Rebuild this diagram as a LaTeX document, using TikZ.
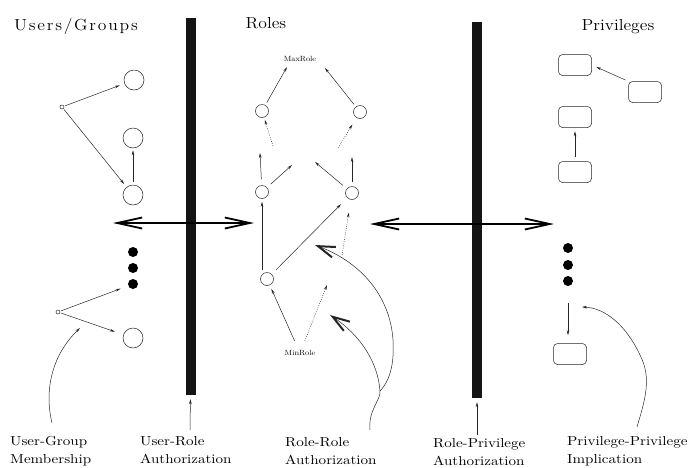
\documentclass[tikz,border=0pt]{standalone}
\usepackage{fontspec}
\newfontfamily\capfont{lmroman10-regular.otf}[FakeStretch=1.16]
\newfontfamily\titlefont{lmroman12-regular.otf}[FakeStretch=1.1]
\newfontfamily\userstitlefont{lmroman12-regular.otf}[FakeStretch=1.1,LetterSpace=11]
\newfontfamily\rolefont{lmroman10-regular.otf}[FakeStretch=1.1]
\usetikzlibrary{arrows.meta,calc}
\begin{document}
\begin{tikzpicture}[x=1pt,y=-1pt,
  every node/.style={inner sep=0pt},
  ln/.style={line width=0.5pt, draw=black!85},
  arr/.style={ln,-{Stealth[length=5pt,width=2.6pt]}},
  darr/.style={arr,dash pattern=on 0.8pt off 1.4pt},
  bigarr/.style={line width=1.1pt,
    {Straight Barb[length=25pt,width=11pt,line width=1.8pt]}-{Straight Barb[length=25pt,width=11pt,line width=1.8pt]}},
  curvearr/.style={ln,-{Straight Barb[length=17pt,width=11pt,line width=2pt]}},
  ucirc/.style={circle,draw,ln,minimum size=20pt},
  rcirc/.style={circle,draw,ln,minimum size=13pt},
  udot/.style={circle,draw,ln,minimum size=4pt},
  bdot/.style={circle,fill=black,minimum size=10pt},
  pbox/.style={draw,ln,rounded corners=4pt,minimum width=33pt,minimum height=21pt},
  bar/.style={fill=black!92,minimum width=10pt},
  title/.style={font=\titlefont\fontsize{16}{18}\selectfont,anchor=base},
  lab/.style={font=\capfont\fontsize{13}{18}\selectfont,align=left,anchor=north west},
  rlab/.style={font=\rolefont\fontsize{7.5}{8}\selectfont}]
\useasboundingbox (0,0) rectangle (689,467);

% column titles
\node[title,font=\userstitlefont\fontsize{16}{18}\selectfont] (tu) at (76,30) {Users/Groups};
\node[title] (tr) at (266,28) {Roles};
\node[title] (tp) at (618,30) {Privileges};

% authorization bars
\node[bar,minimum height=377pt] (barL) at (190.5,206.5) {};
\node[bar,minimum height=376pt] (barR) at (477,210) {};

% users and groups
\node[udot] (u1) at (62,107) {};
\node[ucirc] (c1) at (134,80) {};
\node[ucirc] (c2) at (133,138) {};
\node[ucirc] (c3) at (133,195) {};
\node[bdot] (b1) at (133,252) {};
\node[bdot] (b2) at (133,268) {};
\node[bdot] (b3) at (133,284) {};
\node[udot] (u2) at (58,312) {};
\node[ucirc] (c4) at (133,338) {};

\draw[arr,shorten <=1pt,shorten >=5pt] (u1) -- (c1);
\draw[arr,shorten <=1pt,shorten >=4pt] (u1) -- (c3);
\draw[arr,shorten <=3pt,shorten >=2pt] (c3) -- (c2);
\draw[arr,shorten <=1pt,shorten >=8pt] (u2) -- (b3);
\draw[arr,shorten <=1pt,shorten >=9pt] (u2) -- (c4);

% roles
\node[rlab] (maxr) at (300,59) {MaxRole};
\node[rcirc] (TL) at (262,111) {};
\node[rcirc] (TR) at (360,112) {};
\node[rcirc] (ML) at (262,192) {};
\node[rcirc] (MR) at (352,193) {};
\node[rcirc] (BL) at (267,279) {};
\node[rlab] (minr) at (300,353) {MinRole};

\coordinate (mxl) at (287,67);
\coordinate (mxr) at (325,68);
\coordinate (d1) at (273,146);
\coordinate (d2) at (338,148);
\coordinate (d3) at (342,255);
\coordinate (d4) at (327,285);
\coordinate (mlu) at (260,153);
\coordinate (mle) at (292,165);
\coordinate (mrw) at (315,162);
\coordinate (mru) at (352,157);

\draw[arr,shorten <=3pt] (TL) -- (mxl);
\draw[arr,shorten <=3pt] (TR) -- (mxr);
\draw[darr,shorten >=2.5pt] (d1) -- (TL);
\draw[darr,shorten >=8pt] (d2) -- (TR);
\draw[arr,shorten <=6pt] (ML) -- (mlu);
\draw[arr,shorten <=5pt] (ML) -- (mle);
\draw[arr,shorten <=5pt] (MR) -- (mrw);
\draw[arr,shorten <=4pt,line width=0.8pt] (MR) -- (mru);
\draw[arr,shorten <=2pt,shorten >=3pt] (BL.north -| ML.south) -- (ML.south);
\draw[arr,shorten <=6pt,shorten >=9pt] (BL) -- (MR);
\draw[darr,shorten >=13pt] (d3) -- (MR);
\draw[arr,shorten <=10pt,shorten >=4pt] (minr) -- (BL);
\draw[darr,shorten <=10pt] (minr) -- (d4);

% privileges
\node[pbox] (p1) at (575,65) {};
\node[pbox] (p2) at (645,92) {};
\node[pbox] (p3) at (575,117) {};
\node[pbox] (p4) at (575,172) {};
\node[bdot] (q1) at (568,248) {};
\node[bdot] (q2) at (568,265) {};
\node[bdot] (q3) at (568,281) {};
\node[pbox] (p5) at (570,354) {};

\draw[arr,shorten <=3pt,shorten >=5pt] (p2.north west) -- (p1.east);
\draw[arr,shorten <=4pt,shorten >=3.5pt] (p4) -- (p3);
\draw[arr,shorten <=17pt,shorten >=8pt] (q3) -- (q3 |- p5.north);

% authorization flows between the columns
\coordinate (la) at (113,223);
\coordinate (lb) at (254,223);
\coordinate (ra) at (370,224);
\coordinate (rb) at (554,224);
\draw[bigarr] (la) -- (lb);
\draw[bigarr] (ra) -- (rb);

% captions
\node[lab] (lug) at (10,436) {User-Group\\Membership};
\node[lab] (lur) at (140,436) {User-Role\\Authorization};
\node[lab] (lrr) at (285,437) {Role-Role\\Authorization};
\node[lab] (lrp) at (433,438) {Role-Privilege\\Authorization};
\node[lab] (lpp) at (567,436) {Privilege-Privilege\\Implication};

% caption pointers
\coordinate (ugs) at (52,423);
\coordinate (ugt) at (80,328);
\draw[ln,-{Stealth[length=5pt,width=2.6pt]}] (ugs) .. controls (44,390) and (52,355) .. (ugt);

\coordinate (urs) at (190,430);
\draw[arr,shorten >=4pt] (urs) -- (barL.south);
\coordinate (rps) at (477,435);
\draw[arr,shorten >=4pt] (rps) -- (barR.south);

\coordinate (rrs) at (370,430);
\coordinate (rrj) at (380,391);
\coordinate (rrt1) at (330,315);
\coordinate (rrt2) at (315,245);
\draw[curvearr] (rrs) .. controls (368,410) and (381,400) .. (rrj)
  .. controls (378,362) and (360,335) .. (rrt1);
\draw[curvearr] (rrj) .. controls (392,378) and (394,360) .. (393,340)
  .. controls (390,295) and (360,262) .. (rrt2);

\coordinate (pps) at (637,427);
\coordinate (ppt) at (582,307);
\draw[ln,-{Stealth[length=5pt,width=2.6pt]}] (pps) .. controls (645,400) and (652,378) .. (640,355)
  .. controls (626,325) and (605,308) .. (ppt);
\end{tikzpicture}
\end{document}
